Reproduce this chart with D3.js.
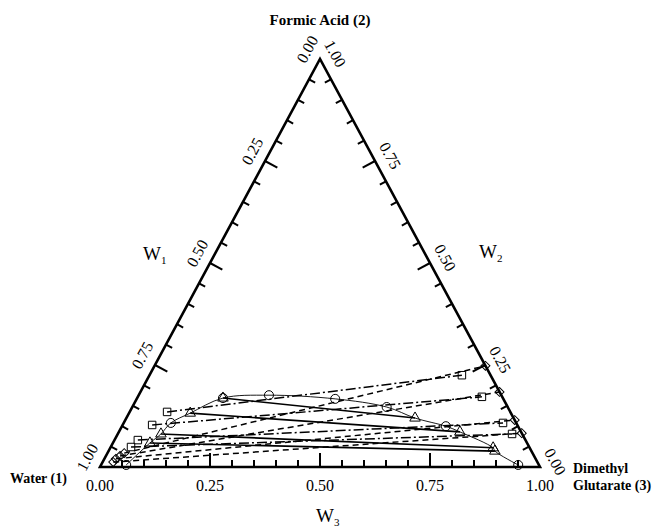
<!DOCTYPE html>
<html>
<head>
<meta charset="utf-8">
<script src="https://cdn.jsdelivr.net/npm/d3@7"></script>
<style>
  body { margin: 0; background: #fff; }
  text { font-family: "Liberation Serif", "Times New Roman", serif; fill: #000; }
</style>
</head>
<body>
<div id="chart"></div>
<script>
// compositions as [w2 (formic acid), w3 (dimethyl glutarate)], w1 = 1 - w2 - w3
const solubility = [[0.005, 0.057], [0.108, 0.107], [0.169, 0.195], [0.176, 0.296],
                    [0.167, 0.451], [0.147, 0.578], [0.100, 0.736], [0.005, 0.948]];
const expAqueous = [[0.169, 0.195], [0.132, 0.139], [0.081, 0.098], [0.059, 0.084]];
const expOrganic = [[0.120, 0.656], [0.086, 0.775], [0.047, 0.870], [0.039, 0.878]];
// model 1 (squares, dash-dot)
const sqAqueous = [[0.135, 0.085], [0.103, 0.067], [0.066, 0.053], [0.049, 0.046]];
const sqOrganic = [[0.225, 0.710], [0.172, 0.782], [0.108, 0.862], [0.081, 0.896]];
// model 2 (diamonds, dashed)
const dmAqueous = [[0.034, 0.038], [0.027, 0.032], [0.020, 0.026], [0.012, 0.024]];
const dmOrganic = [[0.248, 0.752], [0.184, 0.816], [0.115, 0.885], [0.083, 0.917]];

const tickValues = d3.range(0, 21).map(i => i / 20);
const labelValues = [0, 0.25, 0.5, 0.75, 1];

const width = 653, height = 532;
const svg = d3.select("#chart").append("svg")
    .attr("width", width).attr("height", height);

const x = d3.scaleLinear().domain([0, 1]).range([100, 540]);
const y = d3.scaleLinear().domain([0, 1]).range([467, 59]);
const proj = (w2, w3) => [x(w3 + w2 / 2), y(w2)];

const BL = proj(0, 0), BR = proj(0, 1), TOP = proj(1, 0);

// edge vectors
const unit = (a, b) => { let dx = b[0] - a[0], dy = b[1] - a[1], l = Math.hypot(dx, dy); return [dx / l, dy / l]; };
const uL = unit(BL, TOP);   // up the left edge
const uR = unit(TOP, BR);   // down the right edge
const nL = [-uL[1], uL[0]];  // inward normal, left edge
const nR = [-uR[1], uR[0]];  // inward normal, right edge

// triangle
svg.append("path")
    .attr("d", d3.line()([BL, BR, TOP, BL]) + "Z")
    .attr("fill", "none").attr("stroke", "#000").attr("stroke-width", 2.6)
    .attr("stroke-linejoin", "miter");

// ticks
const tickLen = v => (Math.abs(v * 4 - Math.round(v * 4)) < 1e-6 ? 14 : 7);
const inner = tickValues.filter(v => v > 0 && v < 1);
const tg = svg.append("g").attr("stroke", "#000").attr("stroke-width", 2);
inner.forEach(v => {
    // base (W3)
    let p = proj(0, v);
    tg.append("line").attr("x1", p[0]).attr("y1", p[1]).attr("x2", p[0]).attr("y2", p[1] - tickLen(v));
    // left (W1)
    p = proj(v, 0);
    tg.append("line").attr("x1", p[0]).attr("y1", p[1])
        .attr("x2", p[0] + nL[0] * tickLen(v)).attr("y2", p[1] + nL[1] * tickLen(v));
    // right (W2)
    p = proj(v, 1 - v);
    tg.append("line").attr("x1", p[0]).attr("y1", p[1])
        .attr("x2", p[0] + nR[0] * tickLen(v)).attr("y2", p[1] + nR[1] * tickLen(v));
});

// tick labels
const angL = Math.atan2(uL[1], uL[0]) * 180 / Math.PI;
const angR = Math.atan2(uR[1], uR[0]) * 180 / Math.PI;
labelValues.forEach(v => {
    let p = proj(0, v);
    svg.append("text").attr("x", p[0]).attr("y", p[1] + 24)
        .attr("text-anchor", "middle").style("font-size", "16px").text(v.toFixed(2));
    // left axis W1 = v  -> w2 = 1 - v
    p = proj(1 - v, 0);
    let lx = p[0] - nL[0] * 16 + uL[0] * 2.5, ly = p[1] - nL[1] * 16 + uL[1] * 2.5;
    svg.append("text").attr("transform", `translate(${lx},${ly}) rotate(${angL})`)
        .attr("text-anchor", "middle").attr("dy", "0.35em").style("font-size", "16px").text(v.toFixed(2));
    // right axis W2 = v
    p = proj(v, 1 - v);
    let rx = p[0] - nR[0] * 16 + uR[0] * 2.5, ry = p[1] - nR[1] * 16 + uR[1] * 2.5;
    svg.append("text").attr("transform", `translate(${rx},${ry}) rotate(${angR})`)
        .attr("text-anchor", "middle").attr("dy", "0.35em").style("font-size", "16px").text(v.toFixed(2));
});

// axis titles
function wLabel(px, py, sub) {
    const t = svg.append("text").attr("x", px).attr("y", py).style("font-size", "19px");
    t.append("tspan").text("W");
    t.append("tspan").attr("dy", 4).style("font-size", "11px").text(sub);
}
wLabel(143, 260, "1");
wLabel(479, 258, "2");
wLabel(316, 522, "3");

// vertex names
svg.append("text").attr("x", TOP[0]).attr("y", 25).attr("text-anchor", "middle")
    .style("font-size", "15px").style("font-weight", "bold").text("Formic Acid (2)");
svg.append("text").attr("x", 10).attr("y", 483)
    .style("font-size", "14px").style("font-weight", "bold").text("Water (1)");
svg.append("text").attr("x", 573).attr("y", 473)
    .style("font-size", "14px").style("font-weight", "bold").text("Dimethyl");
svg.append("text").attr("x", 573).attr("y", 490)
    .style("font-size", "14px").style("font-weight", "bold").text("Glutarate (3)");

// binodal curve through solubility and tie-line end points
const binodal = solubility.concat(expAqueous, expOrganic)
    .sort((a, b) => a[1] - b[1])
    .filter((d, i, arr) => i === 0 || Math.abs(d[1] - arr[i - 1][1]) > 1e-4);
svg.append("path")
    .attr("d", d3.line().curve(d3.curveCatmullRom.alpha(0.5))(binodal.map(d => proj(d[0], d[1]))))
    .attr("fill", "none").attr("stroke", "#000").attr("stroke-width", 0.9);

// tie lines
function tieLines(aq, org, dash, w) {
    aq.forEach((a, i) => {
        const p = proj(a[0], a[1]), q = proj(org[i][0], org[i][1]);
        svg.append("line").attr("x1", p[0]).attr("y1", p[1]).attr("x2", q[0]).attr("y2", q[1])
            .attr("stroke", "#000").attr("stroke-width", w)
            .attr("stroke-dasharray", dash);
    });
}
tieLines(dmAqueous, dmOrganic, "6,4", 1.5);
tieLines(sqAqueous, sqOrganic, "10,3,2,3", 1.5);
tieLines(expAqueous, expOrganic, null, 1.6);

// markers
const symbols = {
    circle: d3.symbol().type(d3.symbolCircle).size(64),
    triangle: d3.symbol().type(d3.symbolTriangle).size(48),
    square: d3.symbol().type(d3.symbolSquare).size(56),
    diamond: d3.symbol().type(d3.symbolSquare).size(40)
};
function markers(data, kind, rot) {
    svg.append("g").selectAll("path").data(data).join("path")
        .attr("transform", d => { const p = proj(d[0], d[1]); return `translate(${p[0]},${p[1]}) rotate(${rot || 0})`; })
        .attr("d", symbols[kind])
        .attr("fill", "none").attr("stroke", "#000").attr("stroke-width", 1);
}
markers(solubility, "circle");
markers(expAqueous.concat(expOrganic), "triangle");
markers(sqAqueous.concat(sqOrganic), "square");
markers(dmAqueous.concat(dmOrganic), "diamond", 45);
</script>
</body>
</html>
